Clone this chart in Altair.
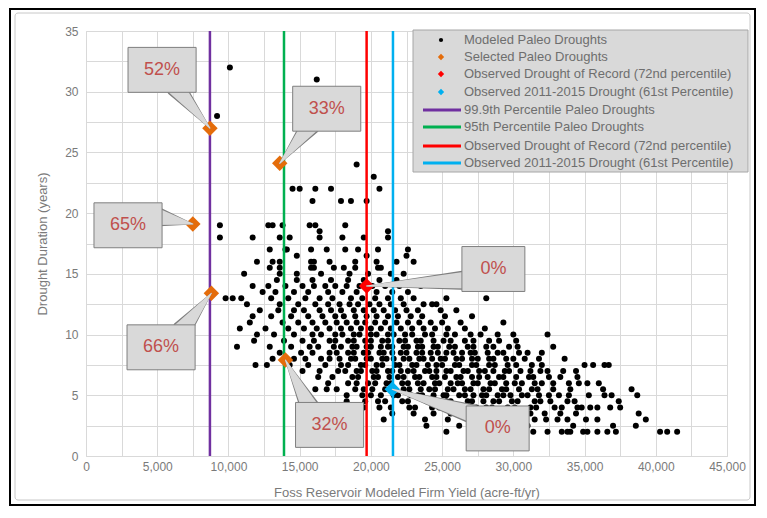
import altair as alt
import pandas as pd

# ---- Modeled paleo droughts: firm yield (thousand acre-ft/yr) per drought duration (years)
d2 = [25.3, 31.4, 32.4, 33.4, 33.8, 34.0, 34.9, 35.2, 35.9, 36.6, 37.2, 40.3, 40.8, 41.5]
d2_5 = [23.9, 26.2, 31.0, 34.2, 37.0, 38.6]
d3 = [20.9, 23.8, 25.4, 27.0, 28.2, 29.3, 30.4, 31.5, 32.3, 33.1, 33.8, 35.1, 35.9, 39.3]
d3_5 = [21.5, 23.0, 24.4, 25.6, 26.8, 27.9, 29.0, 30.1, 31.2, 32.2, 33.3, 34.4, 38.8]
d4 = [19.5, 20.6, 21.4, 22.7, 23.1, 24.3, 24.8, 25.9, 26.2, 27.4, 28.1, 28.5, 29.6, 30.1,
      31.2, 31.6, 32.9, 33.4, 34.5, 34.8, 35.4, 35.9, 36.8, 37.5]
d4_5 = [18.3, 19.6, 20.5, 21.0, 22.2, 22.6, 23.9, 24.2, 25.3, 25.6, 26.8, 27.1, 27.9, 28.6,
        29.0, 29.9, 30.3, 31.5, 31.9, 32.6, 33.8, 34.3, 37.4]
d5 = [18.3, 19.4, 20.0, 20.7, 21.6, 21.9, 22.8, 23.3, 23.6, 24.4, 25.1, 25.3, 26.2, 26.6,
      27.2, 27.8, 28.1, 28.9, 29.3, 29.8, 30.6, 31.0, 31.8, 32.5, 33.2, 33.9, 35.3, 36.4,
      36.9, 38.7]
d5_5 = [16.1, 16.9, 17.6, 18.9, 19.5, 20.1, 21.0, 21.4, 22.3, 22.7, 23.5, 24.1, 24.5, 25.4,
        25.8, 26.6, 27.0, 27.9, 28.3, 29.2, 29.5, 30.4, 31.3, 31.7, 32.8, 34.0, 36.3, 38.3]
d6 = [17.0, 18.4, 19.0, 19.8, 20.3, 21.1, 21.4, 22.2, 22.6, 23.3, 23.7, 24.5, 24.8, 25.6,
      26.1, 26.4, 27.2, 27.5, 28.4, 28.7, 29.5, 30.1, 30.6, 31.5, 32.0, 32.8, 33.9, 34.6,
      35.2, 36.0]
d6_5 = [16.3, 17.3, 18.7, 19.1, 20.2, 20.5, 21.3, 21.9, 22.3, 23.1, 23.4, 24.3, 24.6, 25.2,
        26.0, 26.3, 27.1, 27.6, 28.2, 29.0, 29.3, 30.2, 31.1, 31.4, 32.5, 33.3, 34.5]
d7 = [15.2, 16.4, 17.7, 18.2, 19.0, 19.3, 20.1, 20.4, 21.2, 21.5, 22.1, 22.6, 23.0, 23.8,
      24.1, 24.6, 25.3, 25.6, 26.5, 26.8, 27.6, 28.0, 28.6, 29.4, 29.7, 30.5, 31.2, 31.9,
      32.4, 33.5, 34.4]
d7_5 = [11.9, 12.7, 14.3, 15.6, 16.8, 17.9, 18.4, 19.3, 19.6, 20.4, 20.8, 21.7, 22.0, 22.9,
        23.2, 24.0, 24.6, 25.0, 25.9, 26.2, 27.1, 27.4, 28.3, 28.7, 29.6, 30.2, 31.3, 32.0,
        35.0, 35.6, 36.4, 36.7]
d8 = [13.1, 14.6, 15.4, 16.5, 17.1, 17.8, 18.6, 18.9, 19.7, 20.0, 20.8, 21.1, 21.6, 22.3,
      22.7, 23.4, 23.7, 24.3, 24.9, 25.2, 26.0, 26.4, 27.1, 27.5, 28.3, 28.6, 29.5, 30.0,
      30.8, 31.8, 33.6]
d8_5 = [13.6, 15.1, 15.9, 17.1, 17.6, 18.4, 18.8, 19.5, 19.8, 20.6, 20.9, 21.5, 22.1, 22.5,
        23.2, 23.6, 24.2, 24.7, 25.3, 25.8, 26.4, 27.0, 27.3, 28.2, 28.9, 29.3, 30.4, 31.0,
        32.0]
d9 = [10.6, 12.9, 14.4, 15.7, 16.3, 17.4, 17.9, 18.7, 19.0, 19.7, 20.0, 20.7, 21.2, 21.5,
      22.3, 22.6, 23.3, 23.6, 24.4, 24.7, 25.5, 25.9, 26.8, 27.2, 28.1, 28.6, 29.7, 30.3,
      32.8]
d9_5 = [11.8, 13.9, 15.2, 16.0, 17.1, 17.5, 18.4, 18.8, 19.6, 20.0, 20.8, 21.2, 22.0, 22.4,
        23.2, 23.5, 24.4, 25.1, 25.6, 26.6, 27.2, 28.3, 29.0, 30.2]
d10 = [12.0, 13.2, 14.6, 15.9, 16.5, 17.5, 18.0, 18.8, 19.2, 20.0, 20.4, 21.2, 21.6, 22.4,
       22.9, 23.8, 24.3, 25.3, 25.9, 27.0, 27.7, 28.9, 30.0, 32.4]
d10_5 = [10.8, 12.6, 14.2, 15.3, 16.2, 17.1, 17.9, 18.6, 19.3, 20.0, 20.7, 21.4, 22.1, 22.9,
         23.7, 24.5, 25.4, 26.6, 28.0]
d11 = [11.5, 13.8, 14.9, 15.9, 16.8, 17.6, 18.3, 19.0, 19.6, 20.3, 21.0, 21.8, 22.6, 23.4,
       24.2, 25.0, 26.3, 29.3]
d11_5 = [11.7, 13.0, 14.4, 15.6, 16.6, 17.5, 18.1, 18.9, 19.7, 20.4, 21.2, 21.9, 22.8, 23.6,
         25.2, 27.1]
d12 = [12.2, 13.5, 14.6, 15.3, 16.4, 17.2, 17.9, 18.8, 19.5, 20.2, 20.9, 21.7, 22.5, 23.3,
       24.9, 26.0]
d12_5 = [11.3, 13.6, 14.9, 16.1, 17.0, 17.8, 18.5, 19.1, 19.9, 20.6, 21.4, 22.3, 23.7, 24.3,
         24.6]
d13 = [9.8, 10.3, 10.9, 13.0, 14.2, 15.4, 16.4, 17.3, 18.6, 19.4, 20.3, 21.2, 22.1, 23.0,
       25.3, 28.1]
d13_5 = [12.4, 13.3, 14.6, 15.6, 17.0, 18.0, 19.0, 20.4, 21.5, 22.6]
d14 = [11.7, 12.8, 14.0, 15.2, 16.0, 16.8, 17.5, 18.3, 19.2, 20.1, 21.0, 22.0, 23.5, 25.1]
d14_5 = [13.4, 14.8, 15.9, 17.2, 18.4, 19.5, 20.6, 21.8]
d15 = [11.1, 13.6, 14.8, 16.5, 18.5, 19.8, 21.4, 22.3]
d15_5 = [12.9, 13.6, 15.8, 16.0, 17.4, 18.1, 18.9, 20.5, 20.7]
d16 = [12.0, 13.1, 13.6, 15.8, 16.0, 17.1, 18.9, 20.4, 21.8, 23.0]
d16_5 = [14.8, 19.7, 22.5]
d17 = [12.9, 14.0, 14.1, 15.8, 16.9, 18.2, 19.1, 20.5, 22.6]
d18 = [9.4, 11.7, 13.6, 14.3, 16.4, 18.0, 19.5, 21.2]
d18_5 = [16.4, 21.2]
d19 = [9.4, 12.8, 13.1, 13.8, 15.7, 16.1, 18.2]
d21 = [15.9, 17.9, 18.6, 19.7]
d22 = [14.5, 15.0, 16.1, 17.2, 20.6]
d23 = [20.2]
d24 = [19.0]
d28 = [9.2]
d31 = [16.2]
d32 = [10.1]

rows = [(2, d2), (2.5, d2_5), (3, d3), (3.5, d3_5), (4, d4), (4.5, d4_5), (5, d5),
        (5.5, d5_5), (6, d6), (6.5, d6_5), (7, d7), (7.5, d7_5), (8, d8), (8.5, d8_5),
        (9, d9), (9.5, d9_5), (10, d10), (10.5, d10_5), (11, d11), (11.5, d11_5),
        (12, d12), (12.5, d12_5), (13, d13), (13.5, d13_5), (14, d14), (14.5, d14_5),
        (15, d15), (15.5, d15_5), (16, d16), (16.5, d16_5), (17, d17), (18, d18),
        (18.5, d18_5), (19, d19), (21, d21), (22, d22), (23, d23), (24, d24), (28, d28),
        (31, d31), (32, d32)]

# ---- Selected / observed droughts
sel_yield = [8.7, 13.6, 7.5, 8.8, 14.0]
sel_dur = [27.0, 24.1, 19.1, 13.4, 7.9]
record_yield, record_dur = 19.7, 14.0
obs_yield, obs_dur = 21.5, 5.5

# ---- Percentile lines
line_yield = [8.7, 13.9, 19.7, 21.55]
line_color = ["#7030A0", "#00B050", "#FF0000", "#00B0F0"]

# ---- Callouts (percent labels)
call_text = ["52%", "33%", "65%", "66%", "32%", "0%", "0%"]
call_cx = [5.34, 16.9, 2.95, 5.27, 17.1, 28.6, 28.9]
call_cy = [31.8, 28.6, 19.0, 8.95, 2.56, 15.4, 2.27]
call_halfw = [2.39, 2.39, 2.39, 2.39, 2.39, 2.21, 2.21]
call_halfh = [1.85, 1.85, 1.85, 1.85, 1.85, 1.85, 1.85]
call_tip_x = [8.7, 13.6, 7.5, 8.8, 14.0, 19.7, 21.5]
call_tip_y = [27.0, 24.1, 19.1, 13.4, 7.9, 14.0, 5.5]
call_base_x = [6.32, 15.73, 4.99, 6.74, 15.73, 26.76, 27.1]
call_base_y = [30.34, 27.2, 19.7, 10.39, 3.96, 14.5, 3.46]

legend_labels = ["Modeled Paleo Droughts", "Selected Paleo Droughts",
                 "Observed Drought of Record (72nd percentile)",
                 "Observed 2011-2015 Drought (61st Percentile)",
                 "99.9th Percentile Paleo Droughts", "95th Percentile Paleo Droughts",
                 "Observed Drought of Record (72nd percentile)",
                 "Observed 2011-2015 Drought (61st Percentile)"]
legend_colors = ["#000000", "#E46C0A", "#FF0000", "#00B0F0"] + line_color

FONT = "Liberation Sans"
GRID = "#D9D9D9"

# ---------------- data frames
pts = pd.DataFrame([{"x": v * 1000, "y": d} for d, vals in rows for v in vals])
sel = pd.DataFrame({"x": [v * 1000 for v in sel_yield], "y": sel_dur})
rec = pd.DataFrame({"x": [record_yield * 1000], "y": [record_dur]})
obs = pd.DataFrame({"x": [obs_yield * 1000], "y": [obs_dur]})
lines = pd.DataFrame({"x": [v * 1000 for v in line_yield], "c": line_color})

boxes = pd.DataFrame({
    "x": [(c - w) * 1000 for c, w in zip(call_cx, call_halfw)],
    "x2": [(c + w) * 1000 for c, w in zip(call_cx, call_halfw)],
    "y": [c - h for c, h in zip(call_cy, call_halfh)],
    "y2": [c + h for c, h in zip(call_cy, call_halfh)],
    "cx": [c * 1000 for c in call_cx], "cy": call_cy, "t": call_text,
})
wedge_rows = []
for i in range(len(call_text)):
    wedge_rows.append({"id": i, "x": call_base_x[i] * 1000, "y": call_base_y[i], "w": 1.0})
    wedge_rows.append({"id": i, "x": call_tip_x[i] * 1000, "y": call_tip_y[i], "w": 0.0})
wedges = pd.DataFrame(wedge_rows)
wedges["w_out"] = wedges["w"] * 20
wedges["w_in"] = wedges["w"] * 17

xs = alt.Scale(domain=[0, 45000], nice=False, zero=False)
ys = alt.Scale(domain=[0, 35], nice=False)
xaxis = alt.Axis(values=list(range(0, 45001, 2500)),
                 labelExpr="datum.value % 5000 === 0 ? format(datum.value, ',') : ''",
                 title="Foss Reservoir Modeled Firm Yield (acre-ft/yr)",
                 labelFlush=False, labelOverlap=False, labelPadding=5, titlePadding=14)
yaxis = alt.Axis(values=[i * 2.5 for i in range(15)],
                 labelExpr="datum.value % 5 === 0 ? datum.value : ''",
                 title="Drought Duration (years)", labelOverlap=False,
                 labelPadding=8, titlePadding=15)
X = alt.X("x:Q", scale=xs, axis=xaxis)
Y = alt.Y("y:Q", scale=ys, axis=yaxis)

one = pd.DataFrame({"a": [0]})

# outer frames
frame = alt.Chart(one).mark_rect(fill="white", fillOpacity=0, stroke="#000000", strokeWidth=2).encode(
    x=alt.value(-76), x2=alt.value(669), y=alt.value(-22), y2=alt.value(474))
inner = alt.Chart(one).mark_rect(fill="white", fillOpacity=0, stroke="#C8C8C8", strokeWidth=1,
                                 cornerRadius=3).encode(
    x=alt.value(-71), x2=alt.value(664), y=alt.value(-18), y2=alt.value(469))

scatter = alt.Chart(pts).mark_circle(size=36, color="#000000", opacity=1).encode(x=X, y=Y)
rules = alt.Chart(lines).mark_rule(strokeWidth=2.5).encode(
    x=X, color=alt.Color("c:N", scale=None))
sel_m = alt.Chart(sel).mark_point(shape="diamond", filled=True, size=240, color="#E46C0A",
                                  opacity=1).encode(x=X, y=Y)
rec_m = alt.Chart(rec).mark_point(shape="diamond", filled=True, size=240, color="#FF0000",
                                  opacity=1).encode(x=X, y=Y)
obs_m = alt.Chart(obs).mark_point(shape="diamond", filled=True, size=240, color="#00B0F0",
                                  opacity=1).encode(x=X, y=Y)
w_out = alt.Chart(wedges).mark_trail(color="#7F7F7F").encode(
    x=X, y=Y, detail="id:N", size=alt.Size("w_out:Q", scale=None, legend=None))
w_in = alt.Chart(wedges).mark_trail(color="#D9D9D9").encode(
    x=X, y=Y, detail="id:N", size=alt.Size("w_in:Q", scale=None, legend=None))
box_m = alt.Chart(boxes).mark_rect(fill="#D9D9D9", stroke="#7F7F7F", strokeWidth=1).encode(
    x=X, x2="x2:Q", y=Y, y2="y2:Q")
box_t = alt.Chart(boxes).mark_text(font=FONT, fontSize=18, color="#C0504D").encode(
    x=alt.X("cx:Q", scale=xs, axis=xaxis), y=alt.Y("cy:Q", scale=ys, axis=yaxis), text="t:N")

# legend (drawn manually)
LX0, LX1, LY0, LY1 = 327, 662, -1, 141
leg_rows = [9, 26, 43, 61, 79, 96, 115, 132]
leg_layers = [alt.Chart(one).mark_rect(fill="#D9D9D9", stroke="#A6A6A6", strokeWidth=1).encode(
    x=alt.value(LX0), x2=alt.value(LX1), y=alt.value(LY0), y2=alt.value(LY1))]
for i, (lab, col) in enumerate(zip(legend_labels, legend_colors)):
    ry = leg_rows[i]
    if i == 0:
        leg_layers.append(alt.Chart(one).mark_circle(size=18, color=col, opacity=1).encode(
            x=alt.value(355), y=alt.value(ry)))
    elif i < 4:
        leg_layers.append(alt.Chart(one).mark_point(shape="diamond", filled=True, size=40,
                                                    color=col, opacity=1).encode(
            x=alt.value(355), y=alt.value(ry)))
    else:
        leg_layers.append(alt.Chart(one).mark_rule(color=col, strokeWidth=3).encode(
            x=alt.value(337), x2=alt.value(375), y=alt.value(ry)))
    leg_layers.append(alt.Chart(one).mark_text(text=lab, font=FONT, fontSize=13,
                                               color="#6E6E6E", align="left",
                                               baseline="middle").encode(
        x=alt.value(378), y=alt.value(ry)))

chart = alt.layer(
    frame, inner, scatter, rules, sel_m, rec_m, obs_m, w_out, w_in, box_m, box_t, *leg_layers
).properties(
    width=641, height=425,
    padding={"left": 78, "top": 23, "right": 30, "bottom": 50},
    autosize=alt.AutoSizeParams(type="none"),
    background="white",
).configure_view(stroke=GRID, strokeWidth=1).configure_axis(
    grid=True, gridColor=GRID, gridWidth=1, domain=False, ticks=False,
    labelFont=FONT, labelFontSize=12, labelColor="#7A7A7A",
    titleFont=FONT, titleFontSize=13, titleColor="#7A7A7A", titleFontWeight="normal",
)

chart.save("out.html", embed_options={"renderer": "svg", "actions": False})
